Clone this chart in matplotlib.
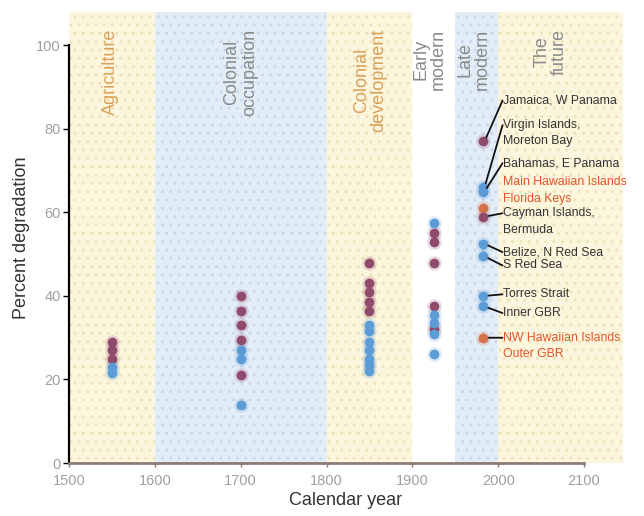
import matplotlib
matplotlib.use("Agg")
import matplotlib.pyplot as plt

# ---------------- data ----------------
period_names = ["Agriculture", "Colonial\noccupation", "Colonial\ndevelopment",
                "Early\nmodern", "Late\nmodern", "The\nfuture"]
period_start = [1500, 1600, 1800, 1900, 1950, 2000]
period_end = [1600, 1800, 1900, 1950, 2000, 2145]

col_years = [1550, 1700, 1850, 1925]
purple_vals = [
    [29, 27, 25],
    [40, 36.5, 33, 29.5, 21],
    [48, 43, 41, 38.5, 36.5],
    [55, 53, 48, 37.5, 32],
]
blue_vals = [
    [23, 21.5],
    [27, 25, 14],
    [33, 31.5, 29, 27, 25, 23.5, 22],
    [57.5, 35.5, 33.5, 31, 26],
]

late_year = 1982
late_values = [77, 66, 65, 61, 59, 52.5, 49.5, 40, 37.5, 30]
late_kind = ["purple", "blue", "blue", "orange", "purple", "blue", "blue", "blue", "blue", "orange"]
late_labels = ["Jamaica, W Panama", "Virgin Islands,\nMoreton Bay", "Bahamas, E Panama",
               "Main Hawaiian Islands\nFlorida Keys", "Cayman Islands,\nBermuda",
               "Belize, N Red Sea", "S Red Sea", "Torres Strait", "Inner GBR",
               "NW Hawaiian Islands\nOuter GBR"]
late_label_y = [86.8, 80.9, 71.8, 67.2, 59.8, 50.5, 47.3, 40.4, 35.9, 30.0]
late_has_line = [True, True, True, False, True, True, True, True, True, True]

x_ticks = [1500, 1600, 1700, 1800, 1900, 2000, 2100]
y_ticks = [0, 20, 40, 60, 80, 100]

# ---------------- style ----------------
band_fill = ["#fdf6de", "#e3edf8", "#fdf6de", "#ffffff", "#e3edf8", "#fdf6de"]
band_hatch = ["#efe2b8", "#c9d9ec", "#efe2b8", "#ffffff", "#c9d9ec", "#efe2b8"]
band_text = ["#d9a25a", "#8a8a8a", "#d9a25a", "#8a8a8a", "#8a8a8a", "#8a8a8a"]
band_text_x = [1548, 1700, 1851, 1920, 1971, 2061]
colors = {"purple": "#8f4a6c", "blue": "#5b9bd6", "orange": "#d4734a"}
label_color = {"purple": "#333333", "blue": "#333333", "orange": "#e0552a"}

plt.rcParams['font.family'] = ['Liberation Sans', 'DejaVu Sans']
plt.rcParams['hatch.linewidth'] = 1.0

fig = plt.figure(figsize=(6.44, 5.16), dpi=100)
ax = fig.add_axes([0.107, 0.1027, 0.86, 0.874])
ax.set_xlim(1500, 2145)
ax.set_ylim(0, 108)

for s, e, fc, hc in zip(period_start, period_end, band_fill, band_hatch):
    ax.axvspan(s, e, facecolor=fc, edgecolor=hc, hatch='..', linewidth=0, zorder=0)

for name, tx, tc in zip(period_names, band_text_x, band_text):
    ax.text(tx, 104, name, rotation=90, ha='center', va='top', color=tc,
            fontsize=13, linespacing=1.05, zorder=3)


def dot(x, y, c):
    ax.plot(x, y, 'o', color=c, markersize=10.5, alpha=0.2, markeredgewidth=0, zorder=2)
    ax.plot(x, y, 'o', color=c, markersize=7, markeredgewidth=0, zorder=3)


for yr, pv, bv in zip(col_years, purple_vals, blue_vals):
    for v in pv:
        dot(yr, v, colors["purple"])
    for v in bv:
        dot(yr, v, colors["blue"])

line_step = 3.9
for v, k, lab, ly, hl in zip(late_values, late_kind, late_labels, late_label_y, late_has_line):
    dot(late_year, v, colors[k])
    lines = lab.split("\n")
    for i, t in enumerate(lines):
        ax.text(2006, ly - i * line_step, t, ha='left', va='center', fontsize=8.8,
                color=label_color[k], zorder=4)
    if hl:
        ax.annotate("", xy=(late_year + 2, v), xytext=(2005, ly),
                    arrowprops=dict(arrowstyle='-', color='#111111', lw=1.3,
                                    shrinkA=0, shrinkB=3), zorder=4)

# axes styling
for s in ['top', 'right']:
    ax.spines[s].set_visible(False)
ax.spines['left'].set_color('black')
ax.spines['left'].set_linewidth(1.6)
ax.spines['left'].set_bounds(0, 100)
ax.spines['bottom'].set_color('#8c7b74')
ax.spines['bottom'].set_linewidth(2.0)
ax.spines['bottom'].set_bounds(1500, 2100)
ax.spines['left'].set_zorder(5)
ax.spines['bottom'].set_zorder(5)

ax.set_xticks(x_ticks)
ax.set_yticks(y_ticks)
ax.tick_params(axis='both', labelsize=10.5, labelcolor='#a0a0a0')
ax.tick_params(axis='y', length=4, width=1, color='black', pad=2)
ax.tick_params(axis='x', length=3, width=1, color='#8c7b74', pad=5)

ax.set_xlabel("Calendar year", fontsize=13, color='#333333', labelpad=3)
ax.set_ylabel("Percent degradation", fontsize=13, color='#333333', labelpad=4)

fig.savefig("out.png", dpi=100)
